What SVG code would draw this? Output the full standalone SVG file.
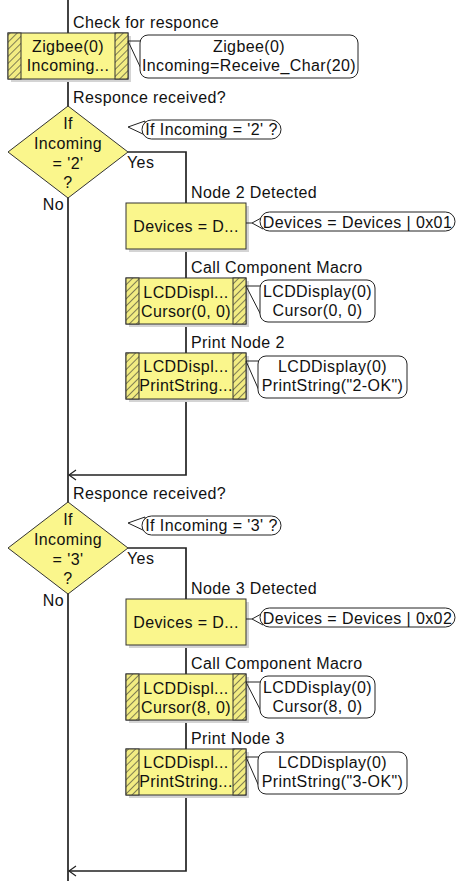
<svg xmlns="http://www.w3.org/2000/svg" width="457" height="881" viewBox="0 0 457 881">
  <style>
    .t { font-family: "Liberation Sans", Arial, sans-serif; font-size: 16px; letter-spacing: 0.4px; fill: #111; }
    .c { text-anchor: middle; }
    .e { text-anchor: end; }
    .box { fill: #faf68c; stroke: #333; stroke-width: 1; }
    .band { fill: url(#hatch); stroke: #333; stroke-width: 1; }
    .shadow { fill: #d4d4d4; }
    .bubble { fill: #fff; stroke: #222; stroke-width: 1; }
    .tail { fill: #fff; stroke: #222; stroke-width: 1; }
    .tl { fill: none; stroke: #222; stroke-width: 1; }
    .wire { fill: none; stroke: #222; stroke-width: 1.7; }
  </style>
  <defs>
    <!-- diagonal hatching used on the side bands of component-macro icons -->
    <pattern id="hatch" width="5" height="5" patternUnits="userSpaceOnUse" patternTransform="rotate(45)">
      <rect width="5" height="5" fill="#f2ec82"/>
      <line x1="0" y1="0" x2="0" y2="5" stroke="#333" stroke-width="1.2"/>
    </pattern>
    <!-- open arrowhead where a branch rejoins the main flow -->
    <marker id="arr" markerUnits="userSpaceOnUse" markerWidth="10" markerHeight="12" refX="8" refY="6" orient="auto">
      <path d="M1,1 L8,6 L1,11" fill="none" stroke="#222" stroke-width="1.2"/>
    </marker>
  </defs>

  <rect width="457" height="881" fill="#fff"/>

  <!-- flow lines -->
  <g id="connectors">
    <path class="wire" d="M68,0 V881"/>
    <path class="wire" d="M128,152 H186 V475 H69" marker-end="url(#arr)"/>
    <path class="wire" d="M128,548 H186 V871 H69" marker-end="url(#arr)"/>
  </g>

  <!-- read the radio -->
  <g id="label-check"><text class="t" x="73" y="28">Check for responce</text></g>
  <g id="zigbee-call">
    <rect class="shadow" x="11" y="36" width="120" height="46"/>
    <rect class="box" x="8" y="33" width="120" height="46"/>
    <rect class="band" x="8" y="33" width="13" height="46"/>
    <rect class="band" x="115" y="33" width="13" height="46"/>
    <text class="t c" x="68" y="52">Zigbee(0)</text>
    <text class="t c" x="68" y="71">Incoming...</text>
  </g>
  <g id="zigbee-call-note">
    <path class="tl" d="M128,41 H141 M128,41 L144,75"/>
    <rect class="bubble" x="140" y="35" width="218" height="43" rx="8"/>
    <text class="t c" x="249" y="52">Zigbee(0)</text>
    <text class="t c" x="249" y="71">Incoming=Receive_Char(20)</text>
  </g>

  <!-- check for node 2 -->
  <g id="section-node2">
    <g id="label-resp2"><text class="t" x="73" y="103">Responce received?</text></g>
    <g id="if-node2">
      <polygon class="box" points="68,106 128,152 68,198 8,152"/>
      <text class="t c" x="68" y="129">If</text>
      <text class="t c" x="68" y="149">Incoming</text>
      <text class="t c" x="68" y="169">= '2'</text>
      <text class="t c" x="68" y="188">?</text>
      <text class="t" x="127" y="168">Yes</text>
      <text class="t e" x="64" y="210">No</text>
    </g>
    <g id="if-node2-note">
      <polygon class="tail" points="128,127 145,121 145,135"/>
      <rect class="bubble" x="142" y="120" width="139" height="19" rx="9.5"/>
      <text class="t c" x="211.5" y="135">If Incoming = '2' ?</text>
    </g>
    <g id="label-node2"><text class="t" x="191" y="198">Node 2 Detected</text></g>
    <g id="calc-node2">
      <rect class="shadow" x="129" y="206" width="120" height="46"/>
      <rect class="box" x="126" y="203" width="120" height="46"/>
      <text class="t c" x="186" y="232">Devices = D...</text>
    </g>
    <g id="calc-node2-note">
      <path class="tl" d="M246,223 H252"/>
      <polygon class="tail" points="252,223 263,217 263,229"/>
      <rect class="bubble" x="260" y="212" width="195" height="19" rx="9.5"/>
      <text class="t c" x="357.5" y="228">Devices = Devices | 0x01</text>
    </g>
    <g id="label-cursor2"><text class="t" x="191" y="273">Call Component Macro</text></g>
    <g id="cursor-node2">
      <rect class="shadow" x="129" y="281" width="120" height="46"/>
      <rect class="box" x="126" y="278" width="120" height="46"/>
      <rect class="band" x="126" y="278" width="13" height="46"/>
      <rect class="band" x="233" y="278" width="13" height="46"/>
      <text class="t c" x="186" y="298">LCDDispl...</text>
      <text class="t c" x="186" y="317">Cursor(0, 0)</text>
    </g>
    <g id="cursor-node2-note">
      <path class="tl" d="M246,286 H261 M246,286 L263,319"/>
      <rect class="bubble" x="260" y="280" width="115" height="42" rx="8"/>
      <text class="t c" x="317.5" y="297">LCDDisplay(0)</text>
      <text class="t c" x="317.5" y="316">Cursor(0, 0)</text>
    </g>
    <g id="label-print2"><text class="t" x="191" y="348">Print Node 2</text></g>
    <g id="print-node2">
      <rect class="shadow" x="129" y="356" width="120" height="46"/>
      <rect class="box" x="126" y="353" width="120" height="46"/>
      <rect class="band" x="126" y="353" width="13" height="46"/>
      <rect class="band" x="233" y="353" width="13" height="46"/>
      <text class="t c" x="186" y="372">LCDDispl...</text>
      <text class="t c" x="186" y="391">PrintString...</text>
    </g>
    <g id="print-node2-note">
      <path class="tl" d="M246,361 H259 M246,361 L261,395"/>
      <rect class="bubble" x="258" y="356" width="149" height="42" rx="8"/>
      <text class="t c" x="332.5" y="372">LCDDisplay(0)</text>
      <text class="t c" x="332.5" y="391">PrintString("2-OK")</text>
    </g>
  </g>

  <!-- check for node 3 -->
  <g id="section-node3" transform="translate(0,396)">
    <g id="label-resp3"><text class="t" x="73" y="103">Responce received?</text></g>
    <g id="if-node3">
      <polygon class="box" points="68,106 128,152 68,198 8,152"/>
      <text class="t c" x="68" y="129">If</text>
      <text class="t c" x="68" y="149">Incoming</text>
      <text class="t c" x="68" y="169">= '3'</text>
      <text class="t c" x="68" y="188">?</text>
      <text class="t" x="127" y="168">Yes</text>
      <text class="t e" x="64" y="210">No</text>
    </g>
    <g id="if-node3-note">
      <polygon class="tail" points="128,127 145,121 145,135"/>
      <rect class="bubble" x="142" y="120" width="139" height="19" rx="9.5"/>
      <text class="t c" x="211.5" y="135">If Incoming = '3' ?</text>
    </g>
    <g id="label-node3"><text class="t" x="191" y="198">Node 3 Detected</text></g>
    <g id="calc-node3">
      <rect class="shadow" x="129" y="206" width="120" height="46"/>
      <rect class="box" x="126" y="203" width="120" height="46"/>
      <text class="t c" x="186" y="232">Devices = D...</text>
    </g>
    <g id="calc-node3-note">
      <path class="tl" d="M246,223 H252"/>
      <polygon class="tail" points="252,223 263,217 263,229"/>
      <rect class="bubble" x="260" y="212" width="195" height="19" rx="9.5"/>
      <text class="t c" x="357.5" y="228">Devices = Devices | 0x02</text>
    </g>
    <g id="label-cursor3"><text class="t" x="191" y="273">Call Component Macro</text></g>
    <g id="cursor-node3">
      <rect class="shadow" x="129" y="281" width="120" height="46"/>
      <rect class="box" x="126" y="278" width="120" height="46"/>
      <rect class="band" x="126" y="278" width="13" height="46"/>
      <rect class="band" x="233" y="278" width="13" height="46"/>
      <text class="t c" x="186" y="298">LCDDispl...</text>
      <text class="t c" x="186" y="317">Cursor(8, 0)</text>
    </g>
    <g id="cursor-node3-note">
      <path class="tl" d="M246,286 H261 M246,286 L263,319"/>
      <rect class="bubble" x="260" y="280" width="115" height="42" rx="8"/>
      <text class="t c" x="317.5" y="297">LCDDisplay(0)</text>
      <text class="t c" x="317.5" y="316">Cursor(8, 0)</text>
    </g>
    <g id="label-print3"><text class="t" x="191" y="348">Print Node 3</text></g>
    <g id="print-node3">
      <rect class="shadow" x="129" y="356" width="120" height="46"/>
      <rect class="box" x="126" y="353" width="120" height="46"/>
      <rect class="band" x="126" y="353" width="13" height="46"/>
      <rect class="band" x="233" y="353" width="13" height="46"/>
      <text class="t c" x="186" y="372">LCDDispl...</text>
      <text class="t c" x="186" y="391">PrintString...</text>
    </g>
    <g id="print-node3-note">
      <path class="tl" d="M246,361 H259 M246,361 L261,395"/>
      <rect class="bubble" x="258" y="356" width="149" height="42" rx="8"/>
      <text class="t c" x="332.5" y="372">LCDDisplay(0)</text>
      <text class="t c" x="332.5" y="391">PrintString("3-OK")</text>
    </g>
  </g>
</svg>
